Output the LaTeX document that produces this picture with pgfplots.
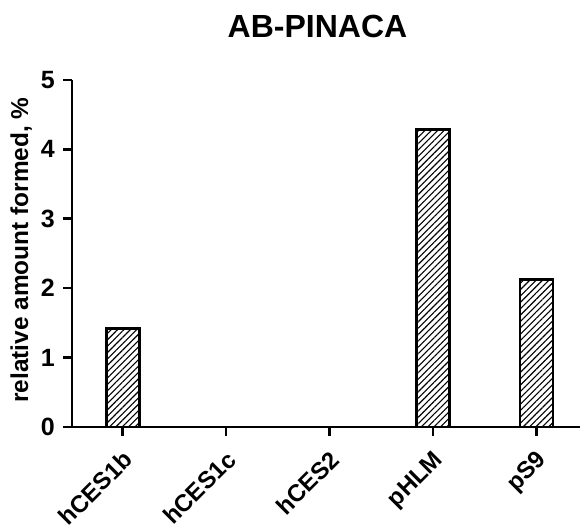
\documentclass[border=0pt]{standalone}
\usepackage{fontspec}
\setmainfont{Liberation Sans}
\usepackage{pgfplots}
\pgfplotsset{compat=1.18}
\usetikzlibrary{patterns.meta}
\begin{document}
\begin{tikzpicture}[x=1bp,y=1bp]
\useasboundingbox (-72,-103) rectangle (510,427);
\begin{axis}[
  at={(0,0)}, anchor=south west,
  scale only axis, width=508bp, height=347bp,
  xmin=-0.49, xmax=4.42, ymin=0, ymax=5,
  axis x line*=bottom, axis y line*=left,
  axis line style={line width=2.6bp, -},
  every tick/.style={line width=2.6bp, black},
  tick align=outside,
  major tick length=9bp,
  xtick={0,1,2,3,4},
  xticklabels={hCES1b,hCES1c,hCES2,pHLM,pS9},
  ytick={0,1,2,3,4,5},
  /pgf/number format/assume math mode=true,
  yticklabel style={font=\fontsize{25bp}{29bp}\selectfont\bfseries, inner sep=1bp, xshift=-7bp},
  xticklabel style={font=\fontsize{24bp}{28bp}\selectfont\bfseries, yshift=-13bp, xshift=-1bp, rotate=45, anchor=north east, inner sep=0bp},
  ylabel={relative amount formed, \%},
  ylabel style={font=\fontsize{24.4bp}{29bp}\selectfont\bfseries, at={(axis description cs:-0.1,0.51)}, anchor=center},
  ybar, bar width=33bp,
  clip=false,
]
\addplot[draw=black, line width=2.8bp, pattern={Lines[angle=45,distance=4.5bp,line width=1.1bp]}]
  coordinates {(0,1.42) (1,0) (2,0) (3,4.29) (4,2.13)};
\draw[line width=2.6bp] (axis cs:-0.49,0) -- ++(-9bp,0);
\end{axis}
\node[font=\fontsize{32bp}{36bp}\selectfont\bfseries, anchor=base] at (245.5,389) {AB-PINACA};
\end{tikzpicture}
\end{document}
